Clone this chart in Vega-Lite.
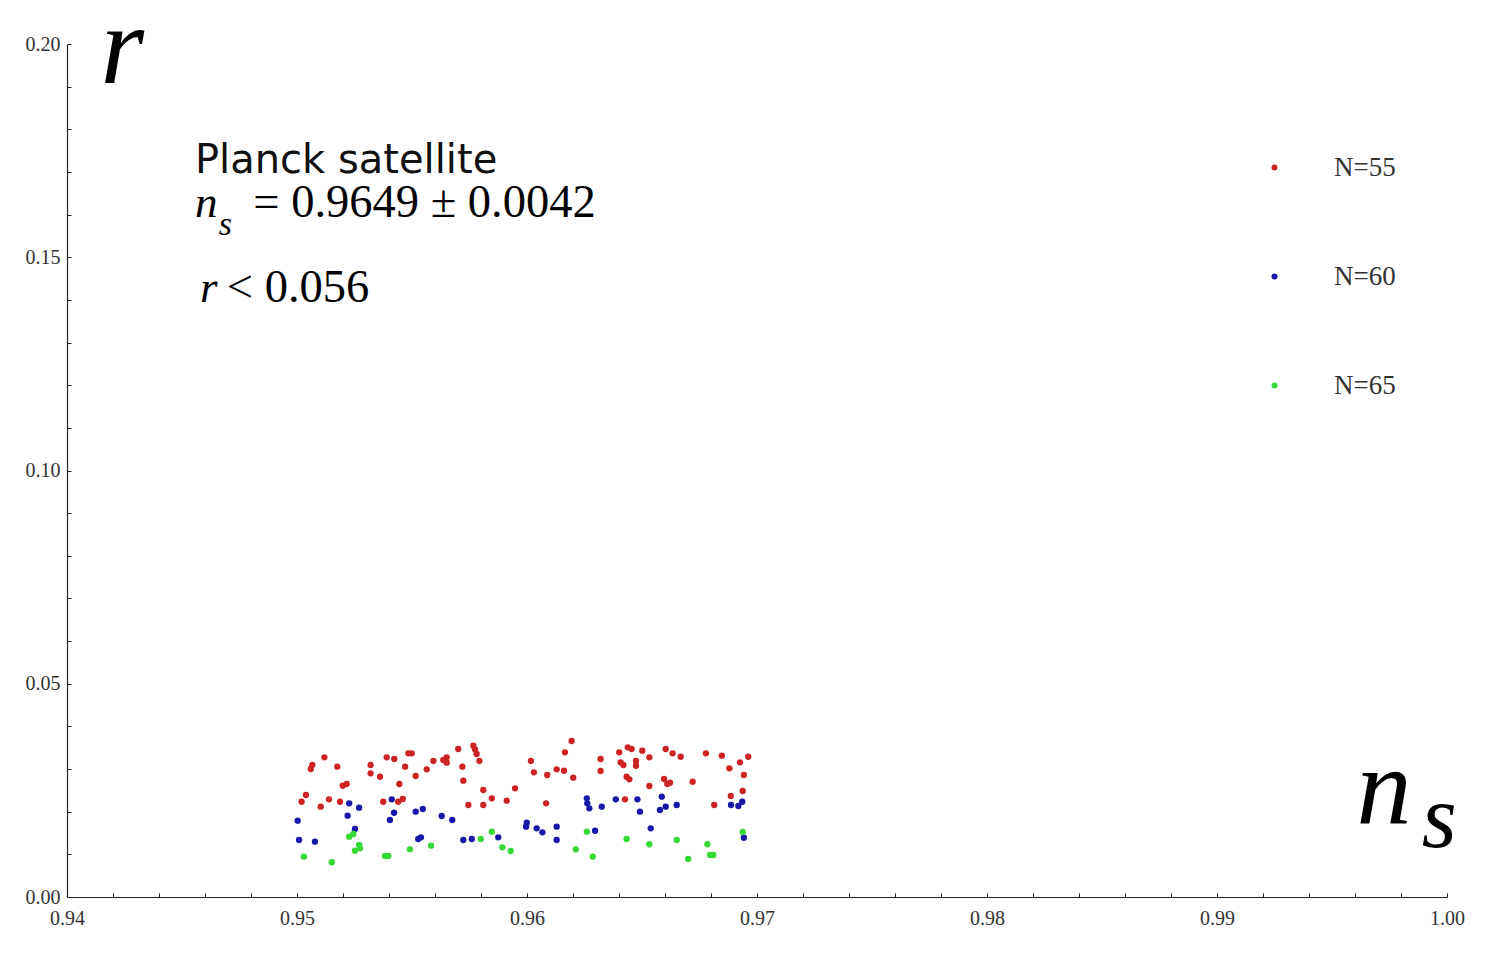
{
  "$schema": "https://vega.github.io/schema/vega-lite/v6.json",
  "width": 1380,
  "height": 853,
  "autosize": {"type": "none"},
  "padding": {"left": 67, "top": 44, "right": 39, "bottom": 58},
  "background": "white",
  "config": {"view": {"stroke": null}, "axis": {"grid": false}},
  "layer": [
    {
      "data": {"values": [
        {"ns": 0.95060, "r": 0.03001, "N": "N=55"}, {"ns": 0.950665, "r": 0.03095, "N": "N=55"},
        {"ns": 0.95119, "r": 0.03275, "N": "N=55"}, {"ns": 0.95175, "r": 0.03055, "N": "N=55"},
        {"ns": 0.95320, "r": 0.03095, "N": "N=55"}, {"ns": 0.95320, "r": 0.02900, "N": "N=55"},
        {"ns": 0.95361, "r": 0.02820, "N": "N=55"}, {"ns": 0.95390, "r": 0.03275, "N": "N=55"},
        {"ns": 0.95423, "r": 0.03235, "N": "N=55"}, {"ns": 0.95484, "r": 0.03369, "N": "N=55"},
        {"ns": 0.95499, "r": 0.03369, "N": "N=55"}, {"ns": 0.95470, "r": 0.03055, "N": "N=55"},
        {"ns": 0.95516, "r": 0.02837, "N": "N=55"}, {"ns": 0.95564, "r": 0.02994, "N": "N=55"},
        {"ns": 0.95593, "r": 0.03189, "N": "N=55"}, {"ns": 0.95445, "r": 0.02649, "N": "N=55"},
        {"ns": 0.95199, "r": 0.02609, "N": "N=55"}, {"ns": 0.95216, "r": 0.02649, "N": "N=55"},
        {"ns": 0.95039, "r": 0.02391, "N": "N=55"}, {"ns": 0.95020, "r": 0.02234, "N": "N=55"},
        {"ns": 0.95103, "r": 0.02117, "N": "N=55"}, {"ns": 0.95139, "r": 0.02291, "N": "N=55"},
        {"ns": 0.95187, "r": 0.02234, "N": "N=55"}, {"ns": 0.95375, "r": 0.02234, "N": "N=55"},
        {"ns": 0.95440, "r": 0.02234, "N": "N=55"}, {"ns": 0.95460, "r": 0.02298, "N": "N=55"},
        {"ns": 0.95636, "r": 0.03212, "N": "N=55"}, {"ns": 0.95651, "r": 0.03275, "N": "N=55"},
        {"ns": 0.95651, "r": 0.03149, "N": "N=55"}, {"ns": 0.95701, "r": 0.03470, "N": "N=55"},
        {"ns": 0.95767, "r": 0.03547, "N": "N=55"}, {"ns": 0.95774, "r": 0.03463, "N": "N=55"},
        {"ns": 0.95781, "r": 0.03353, "N": "N=55"}, {"ns": 0.95793, "r": 0.03189, "N": "N=55"},
        {"ns": 0.95719, "r": 0.03055, "N": "N=55"}, {"ns": 0.95723, "r": 0.02727, "N": "N=55"},
        {"ns": 0.95810, "r": 0.02509, "N": "N=55"}, {"ns": 0.95847, "r": 0.02314, "N": "N=55"},
        {"ns": 0.95745, "r": 0.02157, "N": "N=55"}, {"ns": 0.95810, "r": 0.02157, "N": "N=55"},
        {"ns": 0.95912, "r": 0.02258, "N": "N=55"}, {"ns": 0.95948, "r": 0.02548, "N": "N=55"},
        {"ns": 0.96017, "r": 0.03189, "N": "N=55"}, {"ns": 0.96030, "r": 0.02924, "N": "N=55"},
        {"ns": 0.96088, "r": 0.02860, "N": "N=55"}, {"ns": 0.96129, "r": 0.02994, "N": "N=55"},
        {"ns": 0.96161, "r": 0.02961, "N": "N=55"}, {"ns": 0.96165, "r": 0.03392, "N": "N=55"},
        {"ns": 0.96194, "r": 0.03657, "N": "N=55"}, {"ns": 0.96201, "r": 0.02797, "N": "N=55"},
        {"ns": 0.96083, "r": 0.02197, "N": "N=55"}, {"ns": 0.96320, "r": 0.03235, "N": "N=55"},
        {"ns": 0.96320, "r": 0.02954, "N": "N=55"}, {"ns": 0.96401, "r": 0.03392, "N": "N=55"},
        {"ns": 0.96438, "r": 0.03510, "N": "N=55"}, {"ns": 0.96455, "r": 0.03470, "N": "N=55"},
        {"ns": 0.96501, "r": 0.03430, "N": "N=55"}, {"ns": 0.96532, "r": 0.03275, "N": "N=55"},
        {"ns": 0.96407, "r": 0.03158, "N": "N=55"}, {"ns": 0.96419, "r": 0.03095, "N": "N=55"},
        {"ns": 0.96474, "r": 0.03189, "N": "N=55"}, {"ns": 0.96474, "r": 0.03078, "N": "N=55"},
        {"ns": 0.96433, "r": 0.02820, "N": "N=55"}, {"ns": 0.96445, "r": 0.02759, "N": "N=55"},
        {"ns": 0.96532, "r": 0.02602, "N": "N=55"}, {"ns": 0.96603, "r": 0.03470, "N": "N=55"},
        {"ns": 0.96633, "r": 0.03369, "N": "N=55"}, {"ns": 0.96668, "r": 0.03289, "N": "N=55"},
        {"ns": 0.96596, "r": 0.02767, "N": "N=55"}, {"ns": 0.96610, "r": 0.02649, "N": "N=55"},
        {"ns": 0.96622, "r": 0.02680, "N": "N=55"}, {"ns": 0.96720, "r": 0.02703, "N": "N=55"},
        {"ns": 0.96778, "r": 0.03369, "N": "N=55"}, {"ns": 0.96847, "r": 0.03313, "N": "N=55"},
        {"ns": 0.96962, "r": 0.03289, "N": "N=55"}, {"ns": 0.96880, "r": 0.03017, "N": "N=55"},
        {"ns": 0.96926, "r": 0.03158, "N": "N=55"}, {"ns": 0.96943, "r": 0.02860, "N": "N=55"},
        {"ns": 0.96938, "r": 0.02485, "N": "N=55"}, {"ns": 0.96886, "r": 0.02368, "N": "N=55"},
        {"ns": 0.96814, "r": 0.02157, "N": "N=55"}, {"ns": 0.96426, "r": 0.02291, "N": "N=55"},
        {"ns": 0.95003, "r": 0.01789, "N": "N=60"}, {"ns": 0.95009, "r": 0.01336, "N": "N=60"},
        {"ns": 0.95078, "r": 0.01297, "N": "N=60"}, {"ns": 0.95227, "r": 0.02197, "N": "N=60"},
        {"ns": 0.95270, "r": 0.02094, "N": "N=60"}, {"ns": 0.95220, "r": 0.01906, "N": "N=60"},
        {"ns": 0.95252, "r": 0.01594, "N": "N=60"}, {"ns": 0.95412, "r": 0.02291, "N": "N=60"},
        {"ns": 0.95422, "r": 0.01976, "N": "N=60"}, {"ns": 0.95404, "r": 0.01805, "N": "N=60"},
        {"ns": 0.95516, "r": 0.02000, "N": "N=60"}, {"ns": 0.95547, "r": 0.02063, "N": "N=60"},
        {"ns": 0.95527, "r": 0.01360, "N": "N=60"}, {"ns": 0.95539, "r": 0.01400, "N": "N=60"},
        {"ns": 0.95629, "r": 0.01899, "N": "N=60"}, {"ns": 0.95675, "r": 0.01805, "N": "N=60"},
        {"ns": 0.95723, "r": 0.01336, "N": "N=60"}, {"ns": 0.95760, "r": 0.01360, "N": "N=60"},
        {"ns": 0.95875, "r": 0.01400, "N": "N=60"}, {"ns": 0.95999, "r": 0.01742, "N": "N=60"},
        {"ns": 0.95996, "r": 0.01648, "N": "N=60"}, {"ns": 0.96042, "r": 0.01611, "N": "N=60"},
        {"ns": 0.96067, "r": 0.01517, "N": "N=60"}, {"ns": 0.96129, "r": 0.01648, "N": "N=60"},
        {"ns": 0.96129, "r": 0.01336, "N": "N=60"}, {"ns": 0.96260, "r": 0.02314, "N": "N=60"},
        {"ns": 0.96262, "r": 0.02197, "N": "N=60"}, {"ns": 0.96271, "r": 0.02080, "N": "N=60"},
        {"ns": 0.96325, "r": 0.02117, "N": "N=60"}, {"ns": 0.96386, "r": 0.02291, "N": "N=60"},
        {"ns": 0.96480, "r": 0.02291, "N": "N=60"}, {"ns": 0.96491, "r": 0.02000, "N": "N=60"},
        {"ns": 0.96586, "r": 0.02352, "N": "N=60"}, {"ns": 0.96578, "r": 0.02040, "N": "N=60"},
        {"ns": 0.96603, "r": 0.02117, "N": "N=60"}, {"ns": 0.96651, "r": 0.02157, "N": "N=60"},
        {"ns": 0.96296, "r": 0.01554, "N": "N=60"}, {"ns": 0.96538, "r": 0.01611, "N": "N=60"},
        {"ns": 0.96887, "r": 0.02157, "N": "N=60"}, {"ns": 0.96919, "r": 0.02133, "N": "N=60"},
        {"ns": 0.96936, "r": 0.02234, "N": "N=60"}, {"ns": 0.96943, "r": 0.01390, "N": "N=60"},
        {"ns": 0.95030, "r": 0.00945, "N": "N=65"}, {"ns": 0.95151, "r": 0.00814, "N": "N=65"},
        {"ns": 0.95227, "r": 0.01414, "N": "N=65"}, {"ns": 0.95245, "r": 0.01477, "N": "N=65"},
        {"ns": 0.95270, "r": 0.01219, "N": "N=65"}, {"ns": 0.95274, "r": 0.01142, "N": "N=65"},
        {"ns": 0.95252, "r": 0.01085, "N": "N=65"}, {"ns": 0.95383, "r": 0.00961, "N": "N=65"},
        {"ns": 0.95397, "r": 0.00961, "N": "N=65"}, {"ns": 0.95491, "r": 0.01118, "N": "N=65"},
        {"ns": 0.95583, "r": 0.01203, "N": "N=65"}, {"ns": 0.95799, "r": 0.01360, "N": "N=65"},
        {"ns": 0.95847, "r": 0.01531, "N": "N=65"}, {"ns": 0.95893, "r": 0.01165, "N": "N=65"},
        {"ns": 0.95929, "r": 0.01078, "N": "N=65"}, {"ns": 0.96212, "r": 0.01118, "N": "N=65"},
        {"ns": 0.96260, "r": 0.01531, "N": "N=65"}, {"ns": 0.96286, "r": 0.00945, "N": "N=65"},
        {"ns": 0.96433, "r": 0.01360, "N": "N=65"}, {"ns": 0.96532, "r": 0.01236, "N": "N=65"},
        {"ns": 0.96651, "r": 0.01336, "N": "N=65"}, {"ns": 0.96701, "r": 0.00891, "N": "N=65"},
        {"ns": 0.96784, "r": 0.01236, "N": "N=65"}, {"ns": 0.96796, "r": 0.00985, "N": "N=65"},
        {"ns": 0.96810, "r": 0.00985, "N": "N=65"}, {"ns": 0.96938, "r": 0.01524, "N": "N=65"}
      ]},
      "mark": {"type": "circle", "size": 40, "opacity": 1},
      "encoding": {
        "x": {
          "field": "ns", "type": "quantitative",
          "scale": {"domain": [0.94, 1.0], "nice": false, "zero": false},
          "axis": {
            "title": "n",
            "titleFont": "Liberation Serif", "titleFontStyle": "italic", "titleFontWeight": "normal",
            "titleFontSize": 110, "titleColor": "#000",
            "titleAlign": "left", "titleBaseline": "alphabetic", "titleAnchor": null,
            "titleX": 1289, "titleY": -74,
            "values": [0.94, 0.942, 0.944, 0.946, 0.948, 0.95, 0.952, 0.954, 0.956, 0.958, 0.96, 0.962, 0.964, 0.966, 0.968, 0.97, 0.972, 0.974, 0.976, 0.978, 0.98, 0.982, 0.984, 0.986, 0.988, 0.99, 0.992, 0.994, 0.996, 0.998, 1.0],
            "labelExpr": "abs(datum.value*100 - round(datum.value*100)) < 0.001 ? format(datum.value, '.2f') : ''",
            "labelFont": "Liberation Serif", "labelFontSize": 20, "labelColor": "#333",
            "labelFlush": false, "labelOverlap": false, "labelPadding": 15,
            "tickSize": -4, "tickColor": "#222", "tickWidth": 1,
            "domainColor": "#222", "domainWidth": 1.2
          }
        },
        "y": {
          "field": "r", "type": "quantitative",
          "scale": {"domain": [0, 0.2], "nice": false, "zero": false},
          "axis": {
            "title": "r",
            "titleFont": "Liberation Serif", "titleFontStyle": "italic", "titleFontWeight": "normal",
            "titleFontSize": 112, "titleColor": "#000", "titleAngle": 0,
            "titleAlign": "left", "titleBaseline": "alphabetic", "titleAnchor": null,
            "titleX": 33, "titleY": 38,
            "values": [0, 0.01, 0.02, 0.03, 0.04, 0.05, 0.06, 0.07, 0.08, 0.09, 0.1, 0.11, 0.12, 0.13, 0.14, 0.15, 0.16, 0.17, 0.18, 0.19, 0.2],
            "labelExpr": "abs(datum.value*20 - round(datum.value*20)) < 0.001 ? format(datum.value, '.2f') : ''",
            "labelFont": "Liberation Serif", "labelFontSize": 20, "labelColor": "#333",
            "labelFlush": false, "labelOverlap": false, "labelPadding": 11,
            "tickSize": -4, "tickColor": "#222", "tickWidth": 1,
            "domainColor": "#222", "domainWidth": 1.2
          }
        },
        "color": {
          "field": "N", "type": "nominal",
          "scale": {"domain": ["N=55", "N=60", "N=65"], "range": ["#cc2424", "#1717a8", "#35d835"]},
          "legend": {
            "title": null, "orient": "none", "legendX": 1194, "legendY": 110,
            "direction": "vertical", "padding": 0,
            "symbolType": "circle", "symbolSize": 36, "symbolStrokeWidth": 0,
            "labelFont": "Liberation Serif", "labelFontSize": 27, "labelColor": "#333",
            "labelOffset": 46, "rowPadding": 81, "labelLimit": 300
          }
        }
      }
    },
    {
      "data": {"values": [{"ns": 0.945565, "r": 0.16974, "txt": "Planck satellite"}]},
      "mark": {"type": "text", "align": "left", "baseline": "alphabetic", "font": "DejaVu Sans", "fontSize": 40, "color": "#111", "clip": false},
      "encoding": {"x": {"field": "ns", "type": "quantitative"}, "y": {"field": "r", "type": "quantitative"}, "text": {"field": "txt"}}
    },
    {
      "data": {"values": [{"ns": 0.945565, "r": 0.15943, "txt": "n"}, {"ns": 0.945783, "r": 0.13950, "txt": "r"}]},
      "mark": {"type": "text", "align": "left", "baseline": "alphabetic", "font": "Liberation Serif", "fontStyle": "italic", "fontSize": 45, "color": "#000", "clip": false},
      "encoding": {"x": {"field": "ns", "type": "quantitative"}, "y": {"field": "r", "type": "quantitative"}, "text": {"field": "txt"}}
    },
    {
      "data": {"values": [{"ns": 0.946600, "r": 0.15521, "txt": "s"}]},
      "mark": {"type": "text", "align": "left", "baseline": "alphabetic", "font": "Liberation Serif", "fontStyle": "italic", "fontSize": 34, "color": "#000", "clip": false},
      "encoding": {"x": {"field": "ns", "type": "quantitative"}, "y": {"field": "r", "type": "quantitative"}, "text": {"field": "txt"}}
    },
    {
      "data": {"values": [{"ns": 0.948100, "r": 0.15943, "txt": "= 0.9649 ± 0.0042"}, {"ns": 0.946950, "r": 0.13950, "txt": "< 0.056"}]},
      "mark": {"type": "text", "align": "left", "baseline": "alphabetic", "font": "Liberation Serif", "fontSize": 46.5, "color": "#000", "clip": false},
      "encoding": {"x": {"field": "ns", "type": "quantitative"}, "y": {"field": "r", "type": "quantitative"}, "text": {"field": "txt"}}
    },
    {
      "data": {"values": [{"ns": 0.998900, "r": 0.01172, "txt": "s"}]},
      "mark": {"type": "text", "align": "left", "baseline": "alphabetic", "font": "Liberation Serif", "fontStyle": "italic", "fontSize": 90, "color": "#000", "clip": false},
      "encoding": {"x": {"field": "ns", "type": "quantitative"}, "y": {"field": "r", "type": "quantitative"}, "text": {"field": "txt"}}
    }
  ]
}
